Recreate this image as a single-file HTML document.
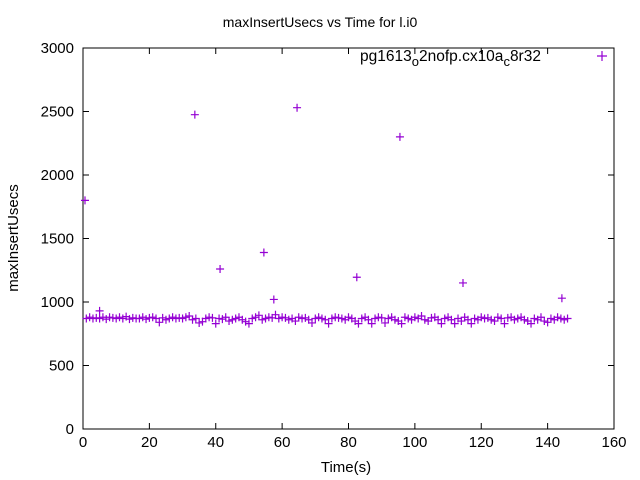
<!DOCTYPE html>
<html><head><meta charset="utf-8"><style>
body{margin:0;background:#fff;}
svg{display:block;font-family:"Liberation Sans",sans-serif;}
</style></head><body>
<svg id="chart" width="640" height="480">
<rect width="640" height="480" fill="#fff"/>
<text x="320" y="27" font-size="14" text-anchor="middle">maxInsertUsecs vs Time for l.i0</text>
<text x="360" y="61" font-size="15.5">pg1613<tspan dy="5" font-size="13">o</tspan><tspan dy="-5">2nofp.cx10a</tspan><tspan dy="5" font-size="13">c</tspan><tspan dy="-5">8r32</tspan></text>
<path d="M597 56h10M602 51v10" stroke="#9400d3" stroke-width="1.2"/>
<text x="346" y="472" font-size="15" text-anchor="middle">Time(s)</text>
<text transform="translate(18,238) rotate(-90)" font-size="15" text-anchor="middle">maxInsertUsecs</text>
<g id="axes"></g>
<g id="points"></g>
</svg>
<script>
const xTicks=[0,20,40,60,80,100,120,140,160];
const yTicks=[0,500,1000,1500,2000,2500,3000];
const outlierTimes=[0.6,5,33.7,41.3,54.5,57.5,64.5,82.5,95.5,114.5,144.3];
const outlierValues=[1800,930,2475,1260,1390,1020,2530,1195,2300,1150,1030];
const baseValues=[870,880,870,875,870,880,865,880,875,870,880,870,885,865,875,870,870,880,865,875,880,870,840,875,860,870,880,870,875,870,880,890,860,870,835,845,870,880,875,830,870,865,880,850,860,870,880,860,845,830,870,880,895,860,870,880,875,900,870,880,875,860,870,850,880,870,875,860,835,870,880,870,860,830,870,880,875,870,860,880,870,850,830,870,880,860,830,870,880,875,835,870,880,860,850,830,880,870,860,880,870,890,860,850,875,880,860,830,870,880,860,830,870,850,880,860,830,870,860,880,870,875,860,850,880,870,830,875,880,860,870,880,860,850,830,870,860,880,850,840,870,860,880,870,860,870];
const NS="http://www.w3.org/2000/svg";
const X0=83,X1=614,Y0=429,Y1=48;
const sx=v=>X0+(v-0)/160*(X1-X0);
const sy=v=>Y0-(v-0)/3000*(Y0-Y1);
const axes=document.getElementById('axes');
const pts=document.getElementById('points');
function mk(tag,attrs,parent){const e=document.createElementNS(NS,tag);for(const k in attrs)e.setAttribute(k,attrs[k]);parent.appendChild(e);return e;}
const frame=mk('rect',{x:X0,y:Y1,width:X1-X0,height:Y0-Y1,fill:'none',stroke:'#000','stroke-width':1},axes);


xTicks.forEach(v=>{const x=sx(v);
 const t=mk('path',{d:`M${x} ${Y0}v-6M${x} ${Y1}v6`,stroke:'#000'},axes);
 
 
 const l=mk('text',{x:x,y:Y0+18,'font-size':15,'text-anchor':'middle'},axes);l.textContent=v;
 
 });
yTicks.forEach(v=>{const y=sy(v);
 const t=mk('path',{d:`M${X0} ${y}h6M${X1} ${y}h-6`,stroke:'#000'},axes);
 
 
 const l=mk('text',{x:X0-9,y:y+5,'font-size':15,'text-anchor':'end'},axes);l.textContent=v;
 
 });
function plus(t,v){const x=sx(t),y=sy(v);
 const p=mk('path',{d:`M${x-4} ${y}h8M${x} ${y-4}v8`,stroke:'#9400d3','stroke-width':1.2},pts);
 
 }
baseValues.forEach((v,i)=>plus(i+1,v));
outlierTimes.forEach((t,i)=>plus(t,outlierValues[i]));
</script>
</body></html>
